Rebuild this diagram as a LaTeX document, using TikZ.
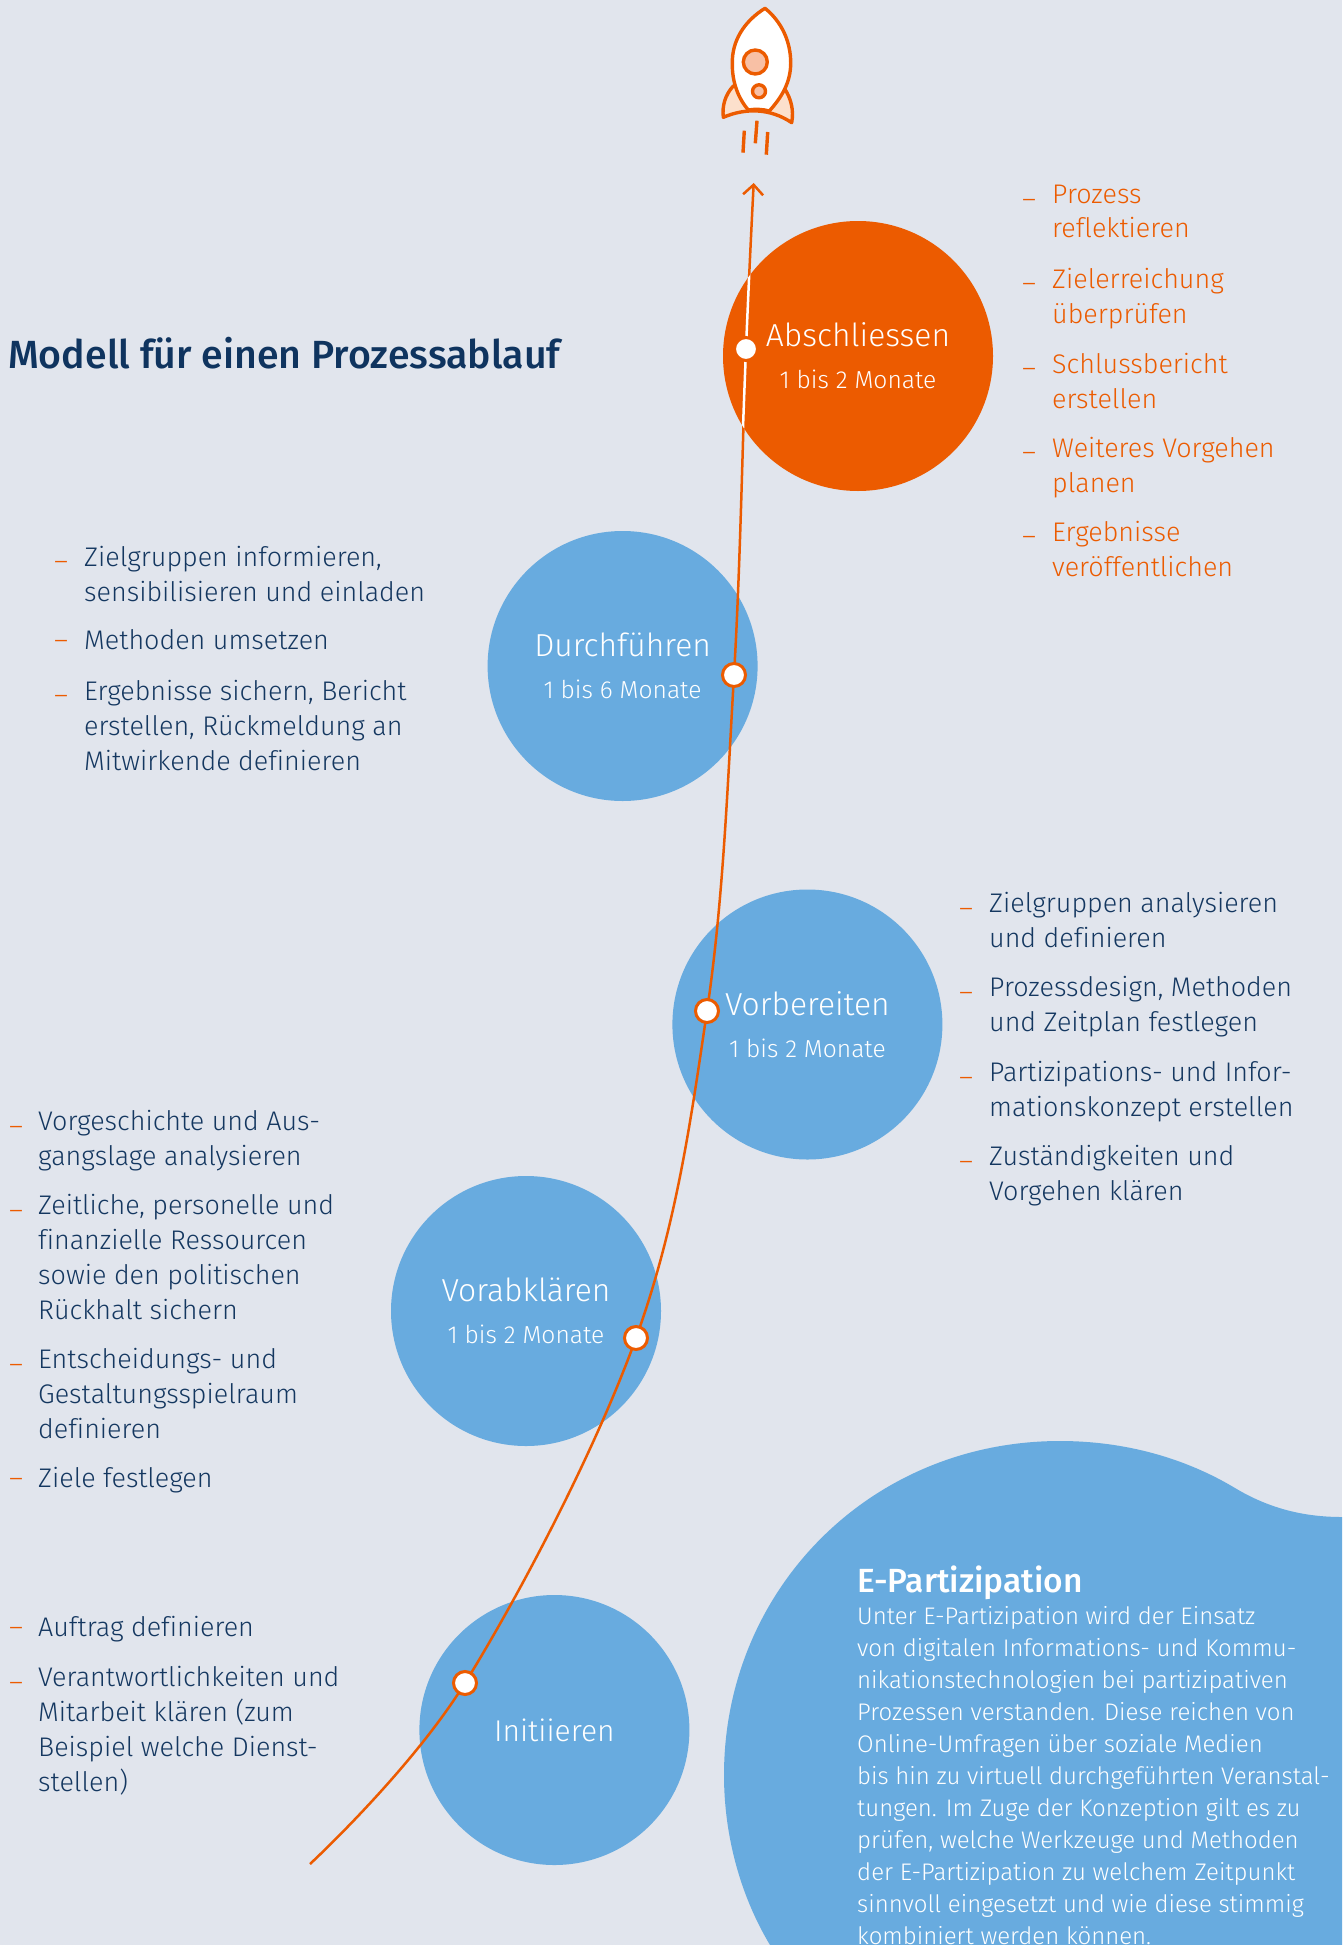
\documentclass[tikz,border=0pt]{standalone}
\usepackage{fontspec}
\setmainfont{Fira Sans}[UprightFont=* Light,BoldFont=* Medium,Ligatures=NoCommon]
\usetikzlibrary{arrows.meta}

\definecolor{pagebg}{HTML}{E1E5ED}
\definecolor{stageblue}{HTML}{68ABDF}
\definecolor{rocketorange}{HTML}{EC5B00}
\definecolor{textblue}{HTML}{143760}
\definecolor{titleblue}{HTML}{0F345F}
\definecolor{windowfill}{HTML}{F8C0A5}
\definecolor{finfill}{HTML}{FCE0CC}

\newcommand{\itemfont}{\fontsize{26.9}{34.7}\selectfont}
\newcommand{\stagefont}{\fontsize{31.8}{37}\selectfont}
\newcommand{\monthfont}{\fontsize{24.6}{28}\selectfont}

\tikzset{
  stage/.style={circle,fill=stageblue,text=white,minimum size=270pt,inner sep=0pt,align=center,font=\stagefont},
  dot/.style={circle,draw=rocketorange,fill=white,line width=3pt,minimum size=23pt,inner sep=0pt},
  listitem/.style={anchor=north west,inner sep=0pt,align=left,font=\itemfont,text=textblue,yshift=-6.5pt,execute at begin node=\strut},
  listitemright/.style={listitem,text=rocketorange},
  bullet/.style={listitem,text=rocketorange},
  rocketline/.style={draw=rocketorange,line width=3.4pt,line join=round},
}

\begin{document}
\begin{tikzpicture}[x=1pt,y=-1pt]
  \useasboundingbox (0,0) rectangle (1342,1945);
  \fill [pagebg] (0,0) rectangle (1342,1945);

  % info blob
  \fill [stageblue] (770,1945) .. controls (740,1895) and (724,1835) .. (724,1775)
    .. controls (724,1590) and (870,1441) .. (1060,1441)
    .. controls (1125,1441) and (1185,1458) .. (1235,1488)
    .. controls (1270,1509) and (1305,1517) .. (1342,1517)
    -- (1342,1945) -- cycle;

  % stages
  \node [stage,fill=rocketorange] (abschliessen) at (858,356) {Abschliessen\\[5pt]\monthfont 1 bis 2 Monate};
  \node [stage] (durchfuehren) at (622.6,666) {Durchführen\\[5pt]\monthfont 1 bis 6 Monate};
  \node [stage] (vorbereiten) at (807.4,1024.5) {Vorbereiten\\[5pt]\monthfont 1 bis 2 Monate};
  \node [stage] (vorabklaeren) at (526,1311) {Vorabklären\\[5pt]\monthfont 1 bis 2 Monate};
  \node [stage,font=\fontsize{30}{36}\selectfont] (initiieren) at (554.4,1730) {Initiieren};

  % curve
  \coordinate (start) at (310,1864);
  \coordinate (pInit) at (465,1683);
  \coordinate (pVorab) at (636,1338);
  \coordinate (pVorb) at (707,1011);
  \coordinate (pDurch) at (734,675);
  \coordinate (pAbsch) at (746,349);
  \coordinate (tip) at (753.7,183);
  \draw [rocketorange,line width=2.5pt,-{Straight Barb[length=10pt,width=20pt,line width=2.5pt]}]
    plot [smooth,tension=0.6] coordinates {(start) (pInit) (pVorab) (pVorb) (pDurch) (pAbsch) (tip)};
  \begin{scope}
    \clip (858,356) circle (135pt);
    \draw [white,line width=2.5pt]
      plot [smooth,tension=0.6] coordinates {(pDurch) (pAbsch) (tip)};
  \end{scope}

  \node [dot] (dotInit) at (pInit) {};
  \node [dot] (dotVorab) at (pVorab) {};
  \node [dot] (dotVorb) at (pVorb) {};
  \node [dot] (dotDurch) at (pDurch) {};
  \node [dot] (dotAbsch) at (pAbsch) {};

  % rocket
  \path [rocketline,fill=finfill] (733.3,86) .. controls (725,95) and (722,106) .. (723.3,117.3)
    .. controls (745,108) and (770,108) .. (791.7,122.7)
    .. controls (794,110) and (791,99) .. (785,89.3) -- cycle;
  \path [rocketline,fill=white] (765,8.3) .. controls (743,22) and (732,42) .. (732.3,63)
    .. controls (732,82) and (738,98) .. (748.3,110)
    .. controls (755,109) and (762,109) .. (769.3,111)
    .. controls (782,97) and (790.7,82) .. (790.7,63)
    .. controls (790.7,42) and (782,22) .. (765,8.3) -- cycle;
  \draw [rocketline,fill=windowfill] (755.3,62) circle (12pt);
  \draw [rocketline,fill=windowfill] (759,91.3) circle (6.5pt);
  \draw [rocketline] (744.3,130.7) -- (743,152.7);
  \draw [rocketline] (757,120.7) -- (755.3,143.3);
  \draw [rocketline] (767.7,132) -- (766.3,154.7);

  % title
  \node [anchor=west,inner sep=0pt,font=\fontsize{39.3}{46}\selectfont\bfseries,text=titleblue] (title) at (8,353) {Modell für einen Prozessablauf};

  % list abschliessen
  \node [bullet] (d11) at (1022,178) {–};
  \node [listitemright] (i11) at (1052,178) {Prozess\\reflektieren};
  \node [bullet] (d12) at (1022,262) {–};
  \node [listitemright] (i12) at (1052,262) {Zielerreichung\\überprüfen};
  \node [bullet] (d13) at (1022,347) {–};
  \node [listitemright] (i13) at (1052,347) {Schlussbericht\\erstellen};
  \node [bullet] (d14) at (1022,431) {–};
  \node [listitemright] (i14) at (1052,431) {Weiteres Vorgehen\\planen};
  \node [bullet] (d15) at (1022,515) {–};
  \node [listitemright] (i15) at (1052,515) {Ergebnisse\\veröffentlichen};

  % list durchfuehren
  \node [bullet] (d21) at (54,540) {–};
  \node [listitem] (i21) at (84,540) {Zielgruppen informieren,\\sensibilisieren und einladen};
  \node [bullet] (d22) at (54,619) {–};
  \node [listitem] (i22) at (84,619) {Methoden umsetzen};
  \node [bullet] (d23) at (54,674) {–};
  \node [listitem] (i23) at (84,674) {Ergebnisse sichern, Bericht\\erstellen, Rückmeldung an\\Mitwirkende definieren};

  % list vorbereiten
  \node [bullet] (d31) at (959,886) {–};
  \node [listitem] (i31) at (989,886) {Zielgruppen analysieren\\und definieren};
  \node [bullet] (d32) at (959,970) {–};
  \node [listitem] (i32) at (989,970) {Prozessdesign, Methoden\\und Zeitplan festlegen};
  \node [bullet] (d33) at (959,1055) {–};
  \node [listitem] (i33) at (989,1055) {Partizipations- und Infor-\\mationskonzept erstellen};
  \node [bullet] (d34) at (959,1139) {–};
  \node [listitem] (i34) at (989,1139) {Zuständigkeiten und\\Vorgehen klären};

  % list vorabklaeren
  \node [bullet] (d41) at (9,1104) {–};
  \node [listitem] (i41) at (38,1104) {Vorgeschichte und Aus-\\gangslage analysieren};
  \node [bullet] (d42) at (9,1188) {–};
  \node [listitem] (i42) at (38,1188) {Zeitliche, personelle und\\finanzielle Ressourcen\\sowie den politischen\\Rückhalt sichern};
  \node [bullet] (d43) at (9,1342) {–};
  \node [listitem] (i43) at (38,1342) {Entscheidungs- und\\Gestaltungsspielraum\\definieren};
  \node [bullet] (d44) at (9,1456) {–};
  \node [listitem] (i44) at (38,1456) {Ziele festlegen};

  % list initiieren
  \node [bullet] (d51) at (9,1605) {–};
  \node [listitem] (i51) at (38,1605) {Auftrag definieren};
  \node [bullet] (d52) at (9,1660) {–};
  \node [listitem] (i52) at (38,1660) {Verantwortlichkeiten und\\Mitarbeit klären (zum\\Beispiel welche Dienst-\\stellen)};

  % info text
  \node [anchor=north west,inner sep=0pt,font=\fontsize{33.5}{38}\selectfont\bfseries,text=white] (infotitle) at (857,1566) {E-Partizipation};
  \node [anchor=north west,inner sep=0pt,align=left,font=\fontsize{24}{32}\selectfont,text=white] (infotext) at (857,1606)
    {Unter E-Partizipation wird der Einsatz\\von digitalen Informations- und Kommu-\\nikationstechnologien bei partizipativen\\Prozessen verstanden. Diese reichen von\\Online-Umfragen über soziale Medien\\bis hin zu virtuell durchgeführten Veranstal-\\tungen. Im Zuge der Konzeption gilt es zu\\prüfen, welche Werkzeuge und Methoden\\der E-Partizipation zu welchem Zeitpunkt\\sinnvoll eingesetzt und wie diese stimmig\\kombiniert werden können.};
\end{tikzpicture}
\end{document}
